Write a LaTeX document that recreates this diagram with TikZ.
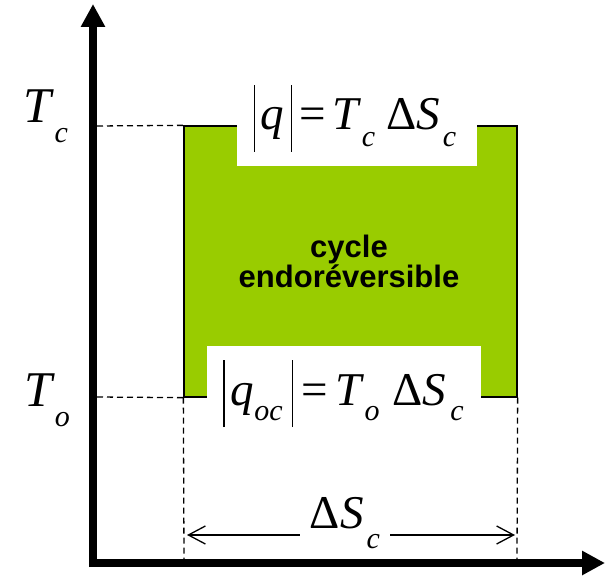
\documentclass[tikz,border=0pt]{standalone}
\usepackage{fontspec}
\setmainfont{Liberation Serif}
\newfontfamily\labelsans{Liberation Sans}
\usetikzlibrary{arrows.meta}
\definecolor{cyclegreen}{RGB}{153,204,0}
\newcommand{\vbarx}{\rule[-22pt]{1.5pt}{67pt}}
\newcommand{\lsub}[2][17pt]{\raisebox{-#1}{\fontsize{30}{30}\selectfont\itshape #2}}
\begin{document}
\begin{tikzpicture}[x=1pt,y=-1pt,
  axis/.style={line width=8pt,-{Triangle[length=23pt,width=23pt]}},
  guide/.style={line width=1.3pt,dash pattern=on 6pt off 4pt},
  formula/.style={font=\fontsize{47}{50}\selectfont,inner sep=0pt},
  bigformula/.style={font=\fontsize{50}{54}\selectfont,inner sep=0pt},
  whitebox/.style={fill=white,draw=none,inner sep=0pt},
  dimarrow/.style={line width=1.3pt},
  cyclebox/.style={fill=cyclegreen,draw=black,line width=1.3pt},
  celltext/.style={font=\labelsans\bfseries\fontsize{31}{31}\selectfont,align=center,inner sep=0pt}
]
\useasboundingbox (0,0) rectangle (605,577);
% green cycle
\node[cyclebox,minimum width=333pt,minimum height=271pt,inner sep=0pt] (cyc) at (350.5,261.5) {};
% white boxes
\node[whitebox,minimum width=240pt,minimum height=81pt] (topbox) at (357,125.5) {};
\node[whitebox,minimum width=274pt,minimum height=84pt] (botbox) at (344,388) {};
% formulas
\node[formula,anchor=base] (qtop) at (355,130) {\vbarx\hspace{5pt}\textit{q}\hspace{7pt}\vbarx\hspace{7pt}=\hspace{7pt}\textit{T}\lsub{c}\hspace{11pt}Δ\textit{S}\hspace{3pt}\lsub{c}};
\node[formula,anchor=base] (qbot) at (343.5,405) {\vbarx\hspace{6pt}\textit{q}\lsub[15pt]{oc}\hspace{9pt}\vbarx\hspace{8pt}=\hspace{8pt}\textit{T}\lsub[15pt]{o}\hspace{13pt}Δ\textit{S}\hspace{4pt}\lsub[15pt]{c}};
\node[celltext,anchor=base] (label) at (349,288) {cycle\\endoréversible};
% axis labels
\node[bigformula,anchor=base] (Tc) at (46,123) {\textit{T}\lsub[20pt]{c}};
\node[bigformula,anchor=base] (To) at (47,406) {\textit{T}\lsub[20pt]{o}};
% axes
\coordinate (ytip) at (93,4);
\coordinate (xtip) at (605,563);
\coordinate (ybot) at (93,567);
\coordinate (xleft) at (89,563);
\draw[axis] (ybot) -- (ytip);
\draw[axis] (xleft) -- (xtip);
% guides
\coordinate (tcax) at (97,126);
\coordinate (toax) at (97,397);
\draw[guide] (tcax) -- (cyc.north west);
\draw[guide] (toax) -- (cyc.south west);
\coordinate (lfoot) at (184,559);
\coordinate (rfoot) at (517,559);
\draw[guide] (cyc.south west) -- (lfoot);
\draw[guide] (cyc.south east) -- (rfoot);
% dimension
\coordinate (dimL) at (187,535);
\coordinate (dimR) at (515,535);
\node[formula,anchor=base,inner xsep=10pt] (dS) at (345,528) {Δ\textit{S}\hspace{3pt}\lsub[20pt]{c}};
\draw[dimarrow,{Straight Barb[length=17pt,width=18pt]}-] (dimL) -- (dS.west |- dimL);
\draw[dimarrow,-{Straight Barb[length=17pt,width=18pt]}] (dS.east |- dimR) -- (dimR);
\end{tikzpicture}
\end{document}
